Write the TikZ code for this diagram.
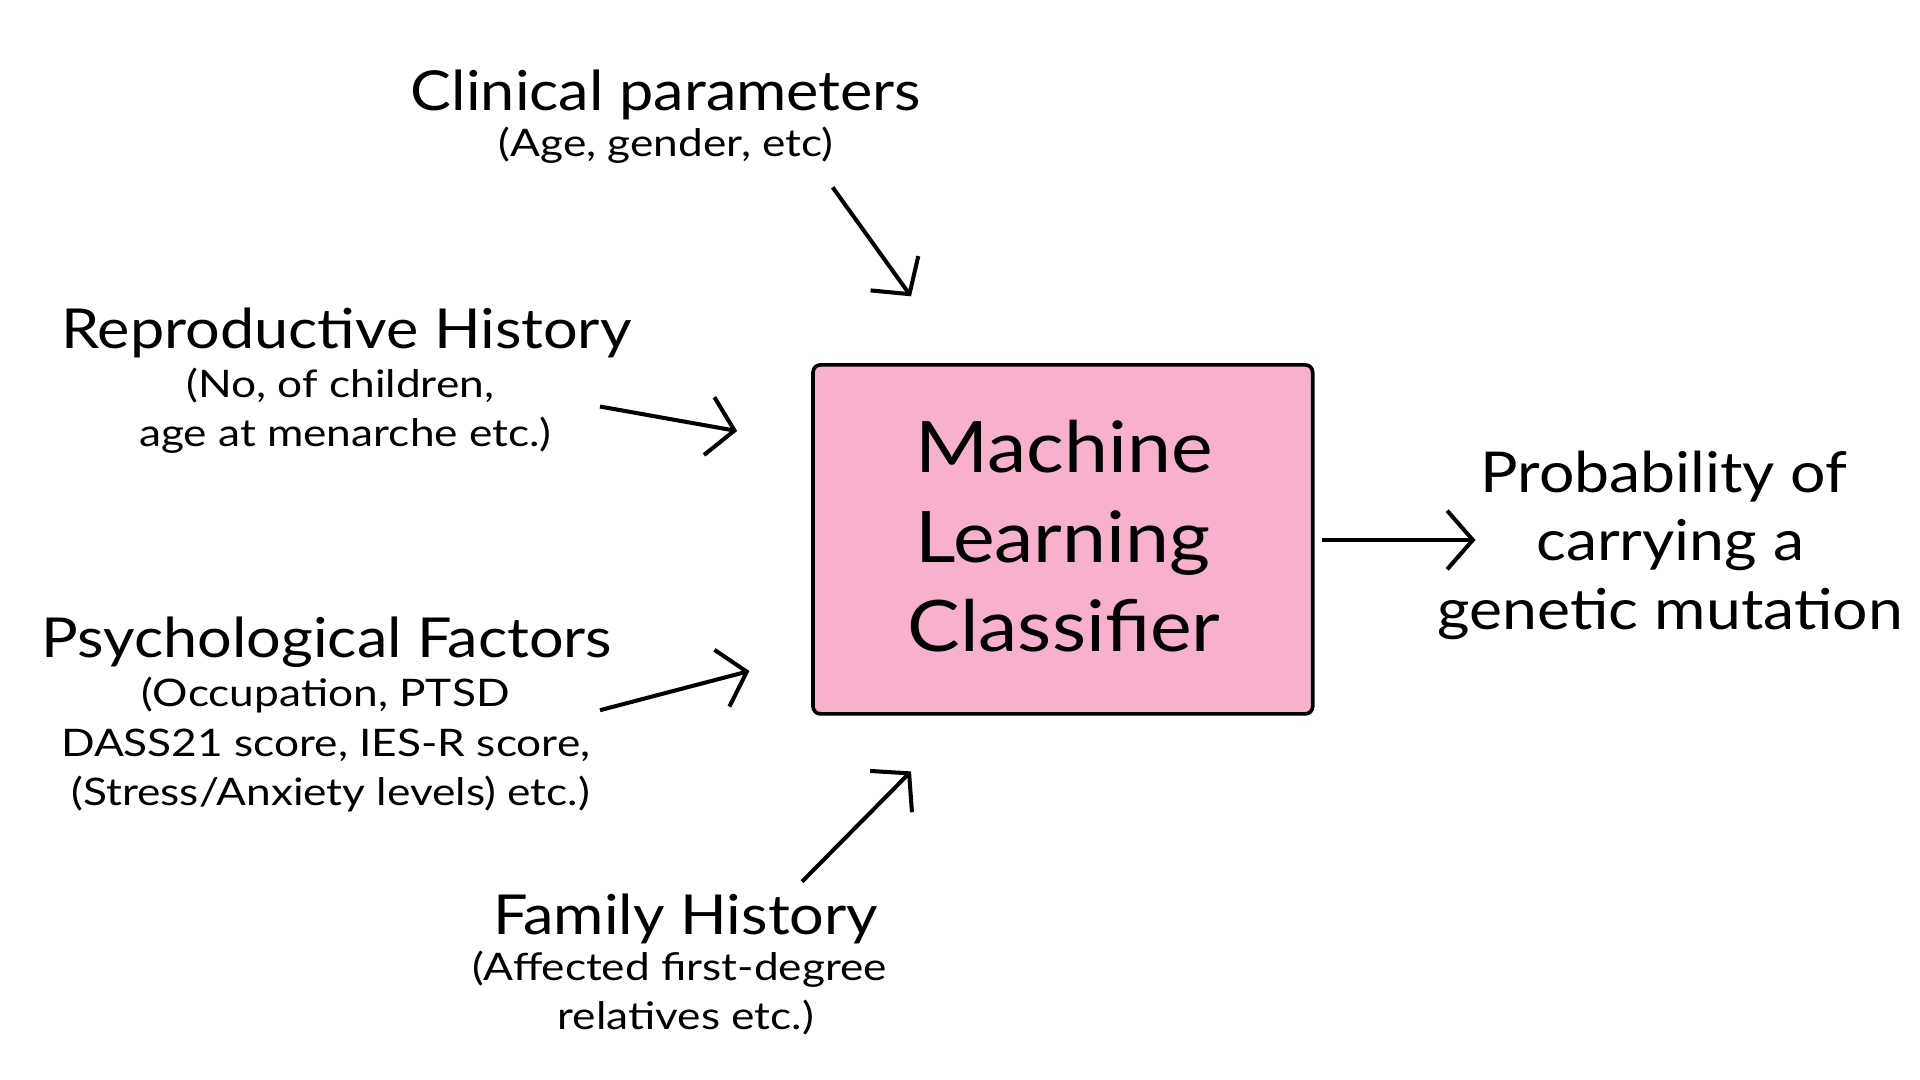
\documentclass[tikz,border=0pt]{standalone}
\usepackage{fontspec}
\setmainfont{Lato}[FakeStretch=1.11]
\newfontfamily\subfont{Lato}[FakeStretch=1.165]
\usetikzlibrary{arrows.meta}
\definecolor{boxpink}{HTML}{F8B0CF}
\tikzset{
  big/.style={font=\fontsize{45}{50}\selectfont, anchor=base, inner sep=0pt},
  small/.style={font=\subfont\fontsize{31}{36}\selectfont, anchor=base, inner sep=0pt},
  mid/.style={font=\fontsize{46}{52}\selectfont, anchor=base, inner sep=0pt},
  huge/.style={font=\fontsize{58}{64}\selectfont, anchor=base, inner sep=0pt},
  conn/.style={line width=3.3pt, -{Straight Barb[length=21pt,width=48pt,line width=3.3pt]}},
  mlbox/.style={draw=black, line width=3pt, fill=boxpink, rounded corners=6pt,
    minimum width=408pt, minimum height=285pt, inner sep=0pt}
}
\begin{document}
\begin{tikzpicture}[x=1pt,y=-1pt]
\useasboundingbox (0,0) rectangle (1568,882);
\fill[white] (0,0) rectangle (1568,882);
% central box
\node[mlbox] (ml) at (868,440.5) {};
\node[huge] (ml1) at (869,386) {Machine};
\node[huge] (ml2) at (868,459) {Learning};
\node[huge] (ml3) at (869,532) {Classifier};
% clinical
\node[big] (cp1) at (544,90) {Clinical parameters};
\node[small] (cp2) at (544,128) {(Age, gender, etc)};
% reproductive
\node[big] (rh1) at (283,285) {Reproductive History};
\node[small] (rh2) at (278,325) {(No, of children,};
\node[small] (rh3) at (282,365) {age at menarche etc.)};
% psychological
\node[big] (pf1) at (267,537) {Psychological Factors};
\node[small] (pf2) at (266,577) {(Occupation, PTSD};
\node[small] (pf3) at (266,618) {DASS21 score, IES-R score,};
\node[small] (pf4) at (270,658) {(Stress/Anxiety levels) etc.)};
% family
\node[big] (fh1) at (560,763) {Family History};
\node[small] (fh2) at (555,801) {(Affected first-degree};
\node[small] (fh3) at (560,841) {relatives etc.)};
% output
\node[mid] (out1) at (1359,402) {Probability of};
\node[mid] (out2) at (1364,458) {carrying a};
\node[mid] (out3) at (1364,514) {genetic mutation};
% arrow ends
\coordinate (a1s) at (680,153); \coordinate (a1e) at (744,242);
\coordinate (a2s) at (490,332); \coordinate (a2e) at (602,352);
\coordinate (a3s) at (1080,441); \coordinate (a3e) at (1205,441);
\coordinate (a4s) at (490,580); \coordinate (a4e) at (612,548);
\coordinate (a5s) at (655,720); \coordinate (a5e) at (744,630);
\draw[conn] (a1s) -- (a1e);
\draw[conn] (a2s) -- (a2e);
\draw[conn] (a3s) -- (a3e);
\draw[conn] (a4s) -- (a4e);
\draw[conn] (a5s) -- (a5e);
\end{tikzpicture}
\end{document}
